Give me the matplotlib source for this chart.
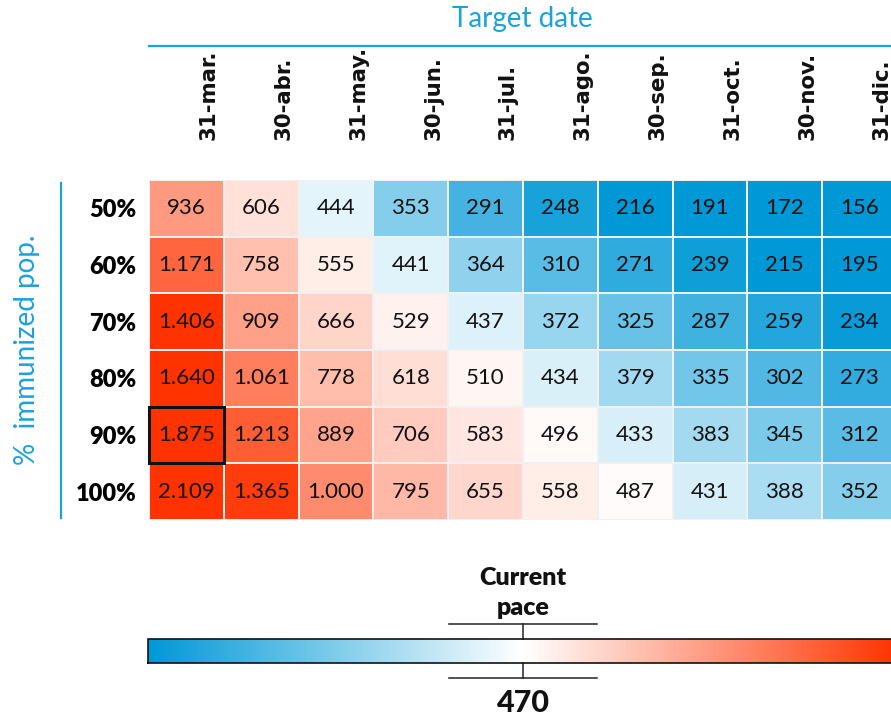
import numpy as np
import matplotlib
matplotlib.use("Agg")
import matplotlib.pyplot as plt
from matplotlib.colors import LinearSegmentedColormap, TwoSlopeNorm
from matplotlib.patches import Rectangle
from matplotlib.lines import Line2D
import matplotlib.transforms as mtransforms

# Target dates (columns) and share of immunized population (rows)
dates = ["31-mar.", "30-abr.", "31-may.", "30-jun.", "31-jul.",
         "31-ago.", "30-sep.", "31-oct.", "30-nov.", "31-dic."]
coverage = ["50%", "60%", "70%", "80%", "90%", "100%"]

# Required daily pace for each coverage / date combination
pace_50 = [936, 606, 444, 353, 291, 248, 216, 191, 172, 156]
pace_60 = [1171, 758, 555, 441, 364, 310, 271, 239, 215, 195]
pace_70 = [1406, 909, 666, 529, 437, 372, 325, 287, 259, 234]
pace_80 = [1640, 1061, 778, 618, 510, 434, 379, 335, 302, 273]
pace_90 = [1875, 1213, 889, 706, 583, 496, 433, 383, 345, 312]
pace_100 = [2109, 1365, 1000, 795, 655, 558, 487, 431, 388, 352]

current_pace = 470
highlight = ("90%", "31-mar.")

# colour scale limits (values beyond are clipped to the end colours)
scale_min, scale_max = 225, 1410

values = np.array([pace_50, pace_60, pace_70, pace_80, pace_90, pace_100])

BLUE = "#1BA1DC"
cmap = LinearSegmentedColormap.from_list("pace", ["#0098D6", "#FFFFFF", "#FF3300"])
norm = TwoSlopeNorm(vmin=scale_min, vcenter=current_pace, vmax=scale_max)

W, H = 891, 717
fig = plt.figure(figsize=(W / 100, H / 100), dpi=100)


def fx(px):
    return px / W


def fy(py):
    return 1 - py / H


# heatmap
ax = fig.add_axes([fx(149), fy(520), 748 / W, 340 / H])
mesh = ax.pcolormesh(np.clip(values, scale_min, scale_max), cmap=cmap, norm=norm,
                     edgecolors="#F0F0F0", linewidth=1.3)
ax.set_xlim(0, len(dates))
ax.set_ylim(len(coverage), 0)
for s in ax.spines.values():
    s.set_visible(False)
ax.set_xticks([])
ax.set_yticks(np.arange(len(coverage)) + 0.5)
ax.set_yticklabels(coverage, fontfamily="Lato", fontweight="heavy", fontsize=17)
ax.tick_params(axis="y", length=0, pad=9)

for i in range(values.shape[0]):
    for j in range(values.shape[1]):
        v = int(values[i, j])
        ax.text(j + 0.5, i + 0.5, f"{v:,}".replace(",", "."), ha="center", va="center",
                fontsize=16, fontfamily="Lato", color="#111111")

# highlighted cell
ri, cj = coverage.index(highlight[0]), dates.index(highlight[1])
ax.add_patch(Rectangle((cj, ri), 1, 1, fill=False, edgecolor="#111111", lw=2.2,
                       clip_on=False, zorder=5))

# rotated date labels above the columns
trans = mtransforms.blended_transform_factory(ax.transData, fig.transFigure)
for j, d in enumerate(dates):
    ax.text(j + 0.8, fy(140), d, rotation=90, ha="center", va="bottom",
            transform=trans, fontsize=15.3, fontweight="bold", color="#111111",
            fontfamily="DejaVu Sans")

# titles and guide lines
fig.text(fx(522), fy(19), "Target date", ha="center", va="center",
         fontsize=20, color=BLUE, fontfamily="Lato")
fig.add_artist(Line2D([fx(149), 1.0], [fy(46), fy(46)], color=BLUE, lw=1.6,
                      transform=fig.transFigure))
fig.text(fx(27), fy(350), "%  immunized pop.", rotation=90, ha="center", va="center",
         fontsize=20, color=BLUE, fontfamily="Lato")
fig.add_artist(Line2D([fx(61), fx(61)], [fy(183), fy(518)], color=BLUE, lw=1.6,
                      transform=fig.transFigure))

# colour bar with current-pace marker
cax = fig.add_axes([fx(148), fy(663), 750 / W, 24 / H])
cb = fig.colorbar(mesh, cax=cax, orientation="horizontal")
cb.set_ticks([])
cb.outline.set_linewidth(1.2)
cb.outline.set_edgecolor("#111111")

mid = norm(current_pace)
half = 74 / 750
tick_h = 15 / 24
mk = dict(color="#222222", lw=1.1, transform=cax.transAxes, clip_on=False)
cax.add_line(Line2D([mid, mid], [1, 1 + tick_h], **mk))
cax.add_line(Line2D([mid - half, mid + half], [1 + tick_h, 1 + tick_h], **mk))
cax.add_line(Line2D([mid, mid], [0, -tick_h], **mk))
cax.add_line(Line2D([mid - half, mid + half], [-tick_h, -tick_h], **mk))

cax.text(mid, 1 + tick_h + 0.2, "Current\npace", transform=cax.transAxes,
         ha="center", va="bottom", fontsize=18, fontweight="heavy",
         fontfamily="Lato", linespacing=1.45, color="#111111")
cax.text(mid, -tick_h - 0.45, f"{current_pace}", transform=cax.transAxes,
         ha="center", va="top", fontsize=22, fontweight="black",
         fontfamily="Lato", color="#111111")

fig.savefig("out.png", dpi=100)
